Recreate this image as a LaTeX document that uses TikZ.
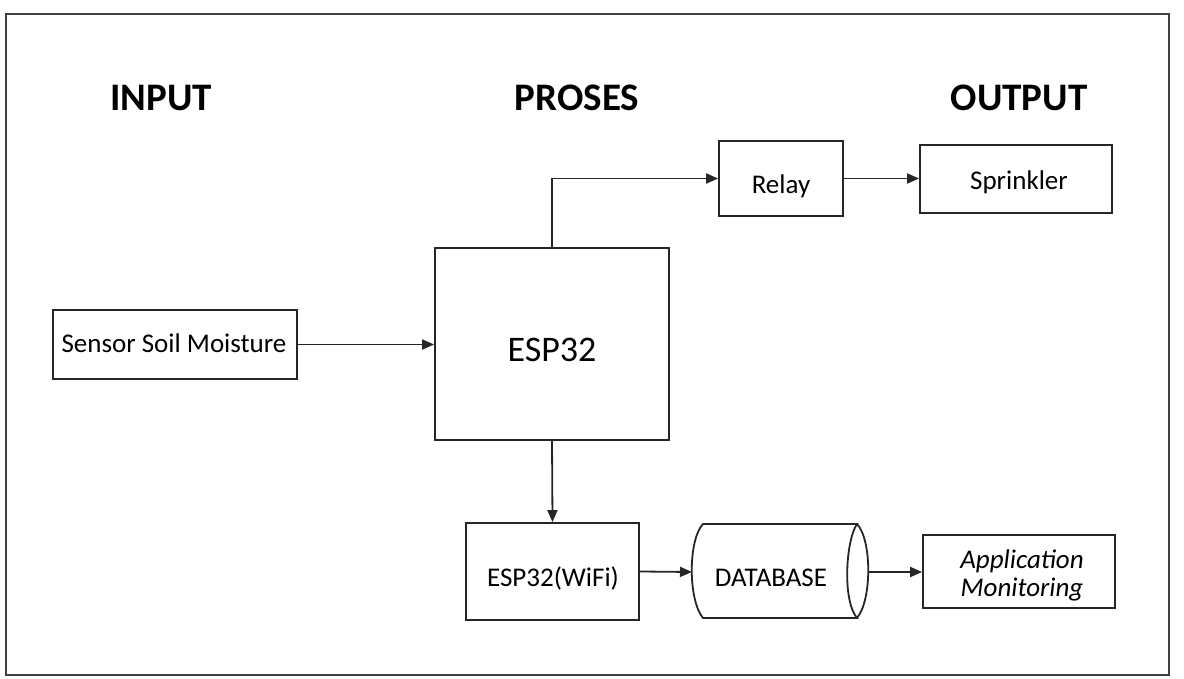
\documentclass[tikz,border=0pt]{standalone}
\usepackage{fontspec}
\setmainfont{Carlito}
\usetikzlibrary{arrows.meta}
\begin{document}
\begin{tikzpicture}[x=1pt,y=-1pt,
  box/.style={draw=black!85,line width=1.8pt,inner sep=0pt},
  txt/.style={inner sep=0pt,font=\fontsize{27}{31}\selectfont},
  title/.style={font=\bfseries\fontsize{39}{44}\selectfont},
  arr/.style={line width=1.8pt,draw=black!85,-{Triangle[length=12pt,width=10pt]}},
  ln/.style={line width=1.8pt,draw=black!85}]
\useasboundingbox (0,0) rectangle (1184,679);
\draw[line width=2.2pt,draw=black!75] (6,14) rectangle (1169,675);
\node[title] (tin) at (161,98) {INPUT};
\node[title] (tpr) at (577,98) {PROSES};
\node[title] (tout) at (1019,98) {OUTPUT};
% boxes
\node[box,minimum width=244pt,minimum height=69pt] (sens) at (175,344.5) {};
\node[box,minimum width=234pt,minimum height=192pt] (esp) at (552,344) {};
\node[box,minimum width=124pt,minimum height=75pt] (relay) at (781,178.5) {};
\node[box,minimum width=192pt,minimum height=68pt] (spr) at (1016,179) {};
\node[box,minimum width=173pt,minimum height=97pt] (wifi) at (552.5,571.5) {};
\node[box,minimum width=192pt,minimum height=73pt] (app) at (1019,571.5) {};
\node[inner sep=0pt,minimum width=154pt,minimum height=94pt] (db) at (771,571) {};
% texts
\node[txt] (sens-t) at (174,343) {Sensor Soil Moisture};
\node[txt,font=\fontsize{36}{40}\selectfont] (esp-t) at (552,350) {ESP32};
\node[txt] (relay-t) at (781,186) {Relay};
\node[txt] (spr-t) at (1019,182) {Sprinkler};
\node[txt] (wifi-t) at (553,578) {ESP32(WiFi)};
\node[txt] (db-t) at (771,578) {DATABASE};
\node[txt,font=\itshape\fontsize{27}{31}\selectfont] (app-t1) at (1022,561) {Application};
\node[txt,font=\itshape\fontsize{27}{31}\selectfont] (app-t2) at (1022,590) {Monitoring};
% database outline
\draw[ln] (703,524) -- (857,524) .. controls (846,540) and (842,600) .. (857,618) -- (703,618)
  .. controls (688,600) and (688,540) .. (703,524) -- cycle;
\draw[ln] (857,524) .. controls (872,540) and (872,600) .. (857,618);
\coordinate (dbl) at (692,572);
\coordinate (dbr) at (869,572);
% connectors
\draw[arr] (sens.east) -- (sens.east -| esp.west);
\draw[arr] (esp.north) |- (relay.west);
\draw[arr] (relay.east) -- (relay.east -| spr.west);
\draw[arr] (esp.south) -- (wifi.north);
\draw[arr] (wifi.east) -- (dbl);
\draw[arr] (dbr) -- (dbr -| app.west);
\end{tikzpicture}
\end{document}
